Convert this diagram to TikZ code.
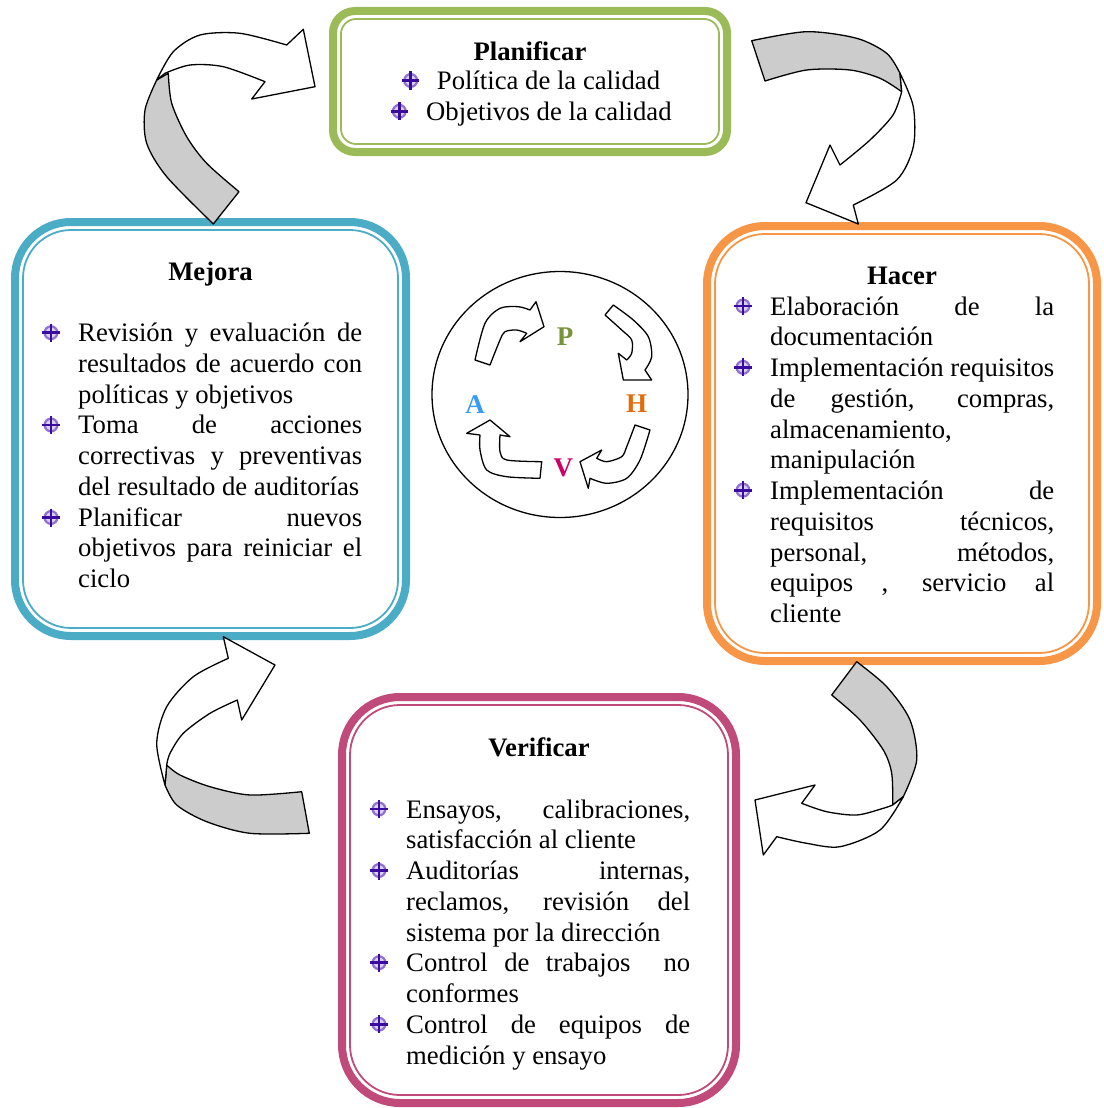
\documentclass[tikz,border=0pt]{standalone}
\usepackage{fontspec}
\setmainfont{Liberation Serif}

\definecolor{planG}{HTML}{9BBB59}
\definecolor{mejB}{HTML}{4BACC6}
\definecolor{hacO}{HTML}{F79646}
\definecolor{verP}{RGB}{192,74,122}
\definecolor{bandgray}{HTML}{CCCCCC}
\definecolor{letP}{HTML}{77933C}
\definecolor{letH}{HTML}{E36C0A}
\definecolor{letV}{HTML}{CC0066}
\definecolor{letA}{HTML}{3A9BF5}
\definecolor{bulcross}{HTML}{3A0C9E}
\definecolor{bulring}{HTML}{8E72CC}
\definecolor{bulfill}{HTML}{DCD0F2}

% column width of the bullet lists
\newlength\colw
\setlength\colw{284pt}
% a justified line of a list (interword glue free to stretch)
\newcommand\jl[1]{{\spaceskip=0pt\xspaceskip=0pt\makebox[\colw][s]{#1}}}
% a last, unjustified line of a list item
\newcommand\pl[1]{{\spaceskip=0pt\xspaceskip=0pt\mbox{#1}}}

\begin{document}
\begin{tikzpicture}[x=1pt,y=-1pt,
  txt/.style={inner sep=0pt,font=\fontsize{26.7}{30.75}\selectfont},
  ttl/.style={txt,anchor=base,font=\fontsize{26.7}{30.75}\selectfont\bfseries},
  lst/.style={txt,anchor=base west,text width=\colw},
  thickb/.style={line width=8pt},
  thinb/.style={line width=1.8pt},
  arrowline/.style={draw=black,line width=1.3pt,line join=round},
  letter/.style={inner sep=0pt,anchor=center,font=\fontsize{27}{30}\selectfont\bfseries},
  qbul/.pic={
    \fill[bulfill] (0,0) circle (6.4);
    \draw[bulring,line width=2.2pt] (0,0) circle (6.4);
    \draw[bulcross,line width=2.8pt] (-8.6,0)--(8.6,0) (0,-9)--(0,9);
  }]

\useasboundingbox (0,0) rectangle (1103,1108);
\fill[white] (0,0) rectangle (1103,1108);

% ---- frames ----
\draw[planG,thickb,rounded corners=22pt] (333,11) rectangle (727,152);
\draw[planG,thinb,rounded corners=15pt] (341,19) rectangle (719,144);

\draw[mejB,thickb,rounded corners=56pt] (15,222) rectangle (406,636);
\draw[mejB,thinb,rounded corners=48pt] (23,230) rectangle (398,628);

\draw[hacO,thickb,rounded corners=58pt] (707,226) rectangle (1097,661);
\draw[hacO,thinb,rounded corners=50pt] (715,234) rectangle (1089,653);

\draw[verP,thickb,rounded corners=58pt] (342,697) rectangle (736,1103);
\draw[verP,thinb,rounded corners=50pt] (350,705) rectangle (728,1095);

% ---- Planificar ----
\node[ttl] (plantitle) at (530,60) {Planificar};
\node[txt,anchor=base west] (plan1) at (436.7,89.5) {Política de la calidad};
\node[txt,anchor=base west] (plan2) at (426,120.3) {Objetivos de la calidad};
\pic at (410.7,80.5) {qbul};
\pic at (399.3,111.3) {qbul};

% ---- Mejora ----
\node[ttl] (mejtitle) at (210.5,280.5) {Mejora};
\node[lst] (mejlist) at (78,341.7) {%
\jl{Revisión y evaluación de}\\
\jl{resultados de acuerdo con}\\
\pl{políticas y objetivos}\\
\jl{Toma de acciones}\\
\jl{correctivas y preventivas}\\
\pl{del resultado de auditorías}\\
\jl{Planificar nuevos}\\
\jl{objetivos para reiniciar el}\\
\pl{ciclo}};
\pic at (51,332.7) {qbul};
\pic at (51,425) {qbul};
\pic at (51,517.5) {qbul};

% ---- Hacer ----
\node[ttl] (hactitle) at (902,284.5) {Hacer};
\node[lst] (haclist) at (770,315) {%
\jl{Elaboración de la}\\
\pl{documentación}\\
\jl{Implementación requisitos}\\
\jl{de gestión, compras,}\\
\pl{almacenamiento,}\\
\pl{manipulación}\\
\jl{Implementación de}\\
\jl{requisitos técnicos,}\\
\jl{personal, métodos,}\\
\jl{equipos , servicio al}\\
\pl{cliente}};
\pic at (743,306) {qbul};
\pic at (743,367.4) {qbul};
\pic at (743,490.2) {qbul};

% ---- Verificar ----
\node[ttl] (vertitle) at (539,756.5) {Verificar};
\node[lst] (verlist) at (406,818) {%
\jl{Ensayos, calibraciones,}\\
\pl{satisfacción al cliente}\\
\jl{Auditorías internas,}\\
\jl{reclamos, revisión del}\\
\pl{sistema por la dirección}\\
\jl{Control de trabajos\ \ no}\\
\pl{conformes}\\
\jl{Control de equipos de}\\
\pl{medición y ensayo}};
\pic at (379,809) {qbul};
\pic at (379,870.5) {qbul};
\pic at (379,962.7) {qbul};
\pic at (379,1024.2) {qbul};

% ---- large twisted arrows ----
% top left
\draw[arrowline,fill=bandgray] plot[smooth] coordinates {(156.7,80) (145,110) (146.7,143.3) (166.7,176.7) (213.3,224)}
  -- plot[smooth] coordinates {(239,191.7) (206.7,163.3) (186.7,136.7) (171.7,103.3) (168.3,73.3)} -- cycle;
\draw[arrowline,fill=white] plot[smooth] coordinates {(156.7,80) (173.3,51.7) (200,35) (240,33.3) (286.7,45)}
  -- (303.3,29.3) -- (315,86.7) -- (251.7,99) -- (265,81.7)
  -- plot[smooth] coordinates {(265,81.7) (223.3,66.7) (190,65) (165,73.3)} -- cycle;

% top right
\draw[arrowline,fill=bandgray] plot[smooth] coordinates {(751.7,40.7) (806.7,31.7) (856.7,38.3) (886.7,53.3) (900,73.3)}
  -- (901.7,91.7)
  -- plot[smooth] coordinates {(901.7,91.7) (880,78.3) (850,70) (806.7,70) (765,81)} -- cycle;
\draw[arrowline,fill=white] plot[smooth] coordinates {(900,73.3) (913.3,106.7) (913.3,146.7) (896.7,180) (853.3,205)}
  -- (858.3,224) -- (806,202.7) -- (830,145) -- (840,165)
  -- plot[smooth] coordinates {(840,165) (870,140) (893,115) (901.7,91.7)} -- cycle;

% bottom right
\draw[arrowline,fill=bandgray] plot[smooth] coordinates {(856.7,661.7) (886.7,686.7) (910,720) (916.7,760) (903.3,796.7)}
  -- (892.7,805)
  -- plot[smooth] coordinates {(892.7,805) (891.7,773.3) (883.3,750) (860,720) (831.7,695)} -- cycle;
\draw[arrowline,fill=white] plot[smooth] coordinates {(903.3,796.7) (880,830) (840,846.7) (806.7,843.3) (776.7,836.7)}
  -- (763.3,855) -- (755,800) -- (815,785) -- (801.7,803.3)
  -- plot[smooth] coordinates {(801.7,803.3) (826.7,811.7) (856.7,815) (883.3,808.3) (892.7,805)} -- cycle;

% bottom left
\draw[arrowline,fill=bandgray] plot[smooth] coordinates {(301.7,791.7) (250,795) (210,786.7) (180,775) (166.7,765)}
  -- (165,785)
  -- plot[smooth] coordinates {(165,785) (176.7,805) (206.7,821.7) (250,833.3) (309.3,833.3)} -- cycle;
\draw[arrowline,fill=white] plot[smooth] coordinates {(165,785) (156.7,743.3) (166.7,706.7) (193.3,676.7) (228.3,658.3)}
  -- (223.3,636.7) -- (275,665) -- (241.7,720) -- (237.3,700)
  -- plot[smooth] coordinates {(237.3,700) (210,713.3) (183.3,733.3) (170,753.3) (166.7,765)} -- cycle;

% ---- central cycle ----
\draw[line width=1.3pt] (560,394.5) ellipse [x radius=128, y radius=123];
\node[letter,text=letP] (lP) at (565,336.7) {P};
\node[letter,text=letH] (lH) at (636.7,403.3) {H};
\node[letter,text=letV] (lV) at (563.3,468.3) {V};
\node[letter,text=letA] (lA) at (475,405) {A};

\draw[arrowline,fill=white] plot[smooth] coordinates {(475,360) (485,323.3) (500,308.3) (518.3,306.7) (530,310)}
  -- (536,301.7) -- (544,326.7) -- (520,341.7) -- (526.7,333.3)
  -- plot[smooth] coordinates {(526.7,333.3) (516.7,330) (505,331.7) (500,340) (490,365)} -- cycle;
\draw[arrowline,fill=white] plot[smooth] coordinates {(613.3,305) (633.3,320) (648.3,336.7) (651.7,356.7) (645,370)}
  -- (651.7,380) -- (623.3,380) -- (618.3,353.3) -- (626.7,360)
  -- plot[smooth] coordinates {(626.7,360) (631.7,353.3) (631.7,340) (621.7,330) (605,315)} -- cycle;
\draw[arrowline,fill=white] plot[smooth] coordinates {(650,430) (640,460) (626.7,478.3) (606.7,483.3) (590,478.3)}
  -- (588.3,488.3) -- (580,461.7) -- (601.7,450) -- (596.7,458.3)
  -- plot[smooth] coordinates {(596.7,458.3) (606.7,461.7) (621.7,456.7) (626.7,446.7) (635,425)} -- cycle;
\draw[arrowline,fill=white] plot[smooth] coordinates {(540,478.3) (506.7,476.7) (486.7,470) (480,450) (480,435)}
  -- (466.7,433.3) -- (490,420) -- (510,436.7) -- (500,435)
  -- plot[smooth] coordinates {(500,435) (500,451.7) (506.7,460) (541.7,461.7)} -- cycle;

\end{tikzpicture}
\end{document}
